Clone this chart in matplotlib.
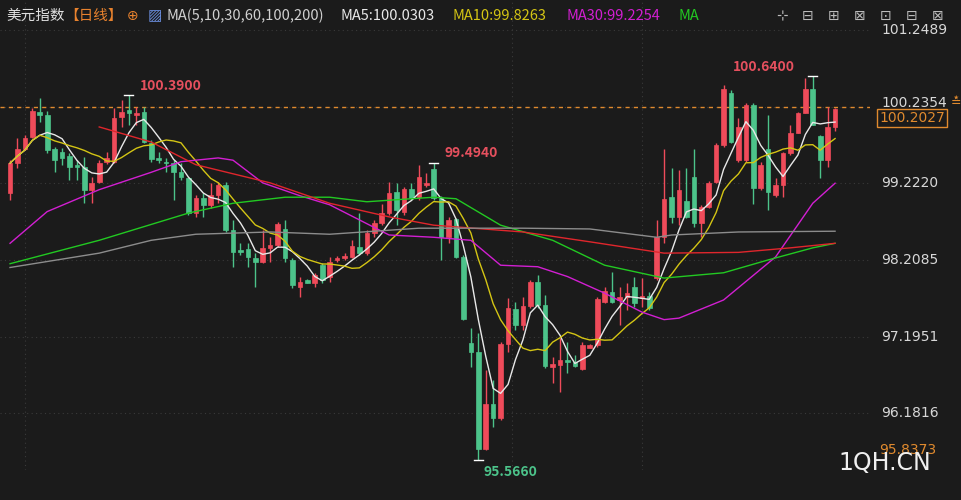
import matplotlib
matplotlib.use("Agg")
import matplotlib.pyplot as plt
from matplotlib.patches import Rectangle
import numpy as np
import pandas as pd

plt.rcParams['font.family'] = ['Noto Sans CJK SC', 'DejaVu Sans']

opens = [99.10,99.49,99.68,99.84,100.17,100.13,99.68,99.64,99.59,99.47,99.44,99.14,99.24,99.51,99.51,100.10,100.20,100.13,100.17,99.76,
 99.56,99.51,99.49,99.37,99.30,98.83,99.03,98.94,99.07,99.20,98.61,98.34,98.36,98.24,98.18,98.37,98.41,98.62,98.21,97.85,
 97.95,97.91,98.14,97.99,98.21,98.24,98.25,98.38,98.30,98.57,98.70,98.83,99.11,98.85,99.15,99.04,99.20,99.41,99.03,98.51,
 98.75,98.25,97.11,96.99,95.71,96.30,96.12,97.10,97.56,97.35,97.60,97.92,97.61,96.79,96.82,96.89,96.86,96.77,97.05,97.09,
 97.65,97.78,97.68,97.72,97.85,97.71,97.73,97.97,98.51,99.04,98.78,98.99,99.31,98.70,98.91,99.24,99.73,100.42,99.53,99.53,
 100.26,99.16,99.68,99.07,99.20,99.63,99.89,100.16,100.47,99.85,99.53,99.97]
highs = [99.53,99.82,99.86,100.22,100.35,100.18,99.70,99.69,99.63,99.53,99.57,99.31,99.53,99.64,100.22,100.33,100.39,100.23,100.23,99.80,
 99.64,99.56,99.53,99.49,99.31,99.07,99.10,99.23,99.24,99.24,98.74,98.43,98.43,98.30,98.61,98.51,98.71,98.74,98.24,97.99,
 97.96,98.04,98.17,98.25,98.26,98.30,98.47,98.83,98.61,98.74,98.95,99.24,99.23,99.17,99.23,99.47,99.36,99.494,99.05,98.78,
 98.77,98.28,97.31,97.24,96.75,96.62,97.12,97.71,97.65,97.72,97.95,98.01,97.74,96.93,97.18,97.13,96.95,97.12,97.10,97.72,
 97.85,98.05,97.85,97.91,97.99,97.97,97.78,98.74,99.68,99.43,99.40,99.43,99.68,98.94,99.25,99.76,100.53,100.46,100.09,100.29,
 100.29,99.51,100.13,99.30,99.64,100.00,100.17,100.62,100.64,99.86,100.23,100.22]
lows = [99.00,99.43,99.66,99.82,100.04,99.62,99.37,99.47,99.27,99.27,98.96,98.96,99.23,99.48,99.49,99.97,100.00,100.00,99.76,99.51,
 99.49,99.37,99.00,99.27,98.81,98.78,98.78,98.90,98.96,98.58,98.12,98.28,98.12,97.85,98.17,98.18,98.38,98.18,97.84,97.72,
 97.90,97.85,97.91,97.92,98.18,98.21,98.24,98.28,98.28,98.51,98.67,98.81,98.67,98.81,99.00,99.00,99.17,99.00,98.21,98.43,
 98.24,97.42,96.79,95.566,95.70,96.00,96.09,96.99,97.28,97.28,97.58,97.58,96.78,96.58,96.46,96.72,96.79,96.76,97.04,97.06,
 97.64,97.64,97.35,97.55,97.59,97.59,97.55,97.95,98.43,98.70,98.67,98.77,98.65,98.51,98.90,99.23,99.70,99.76,99.51,99.51,
 98.95,99.14,98.87,99.04,99.04,99.60,99.89,100.16,99.99,99.30,99.44,99.92]
closes = [99.49,99.68,99.82,100.18,100.13,99.67,99.53,99.56,99.44,99.44,99.14,99.23,99.49,99.56,100.09,100.17,100.16,100.16,99.77,99.55,
 99.53,99.49,99.37,99.31,98.83,99.03,98.94,99.07,99.20,98.61,98.31,98.31,98.25,98.18,98.37,98.41,98.69,98.24,97.88,97.92,
 97.91,98.01,97.95,98.18,98.24,98.26,98.40,98.30,98.57,98.70,98.83,99.10,98.87,99.15,99.03,99.31,99.23,99.03,98.51,98.74,
 98.25,97.43,96.99,95.71,96.30,96.12,97.10,97.58,97.35,97.60,97.92,97.61,96.81,96.83,96.89,96.86,96.81,97.09,97.09,97.69,
 97.80,97.65,97.72,97.77,97.64,97.73,97.58,98.51,99.02,98.78,99.14,98.78,98.70,98.91,99.23,99.73,100.47,99.77,99.97,100.26,
 99.16,99.47,99.11,99.20,99.63,99.89,100.16,100.47,100.00,99.53,99.97,100.2027]

ma30_idx = [0,5,12,19,23,28,30,34,39,43,51,57,62,66,71,75,80,85,88,90,96,103,108,111]
ma30_val = [98.43,98.85,99.14,99.37,99.51,99.56,99.53,99.23,99.06,98.94,98.54,98.51,98.47,98.14,98.12,97.99,97.77,97.52,97.42,97.44,97.68,98.25,98.96,99.2254]
ma60_idx = [0,12,24,30,37,43,48,57,60,66,73,80,88,96,102,108,111]
ma60_val = [98.16,98.47,98.83,98.96,99.04,99.04,98.98,99.04,99.02,98.67,98.47,98.14,97.97,98.04,98.21,98.37,98.43]
ma100_idx = [12,19,25,35,43,51,57,69,78,88,98,105,111]
ma100_val = [99.97,99.77,99.47,99.23,98.96,98.78,98.67,98.58,98.45,98.30,98.31,98.37,98.43]
ma200_idx = [0,12,19,25,35,43,55,69,78,87,89,98,111]
ma200_val = [98.11,98.30,98.47,98.55,98.58,98.55,98.63,98.63,98.62,98.51,98.54,98.58,98.59]

axis_ticks = [101.2489,100.2354,99.2220,98.2085,97.1951,96.1816]

BG = '#1b1b1b'
UP = '#ef4b5a'
DN = '#4cc38a'

fig = plt.figure(figsize=(9.61, 5.0), dpi=100, facecolor=BG)
ax = fig.add_axes([0, 0.06, 870/961, 0.94])
ax.set_facecolor(BG)
ax.set_xlim(-1.35, 115.7)
ax.set_ylim(95.43, 101.65)
for s in ax.spines.values():
    s.set_visible(False)
ax.set_xticks([]); ax.set_yticks([])

for t in axis_ticks:
    ax.axhline(t, color='#3a3a3a', lw=0.8, ls=(0, (1, 3)), zorder=0)
for xv in [2, 67.5, 85]:
    ax.axvline(xv, color='#3a3a3a', lw=0.8, ls=(0, (1, 3)), zorder=0)

w = 0.62
for i, (o, h, l, c) in enumerate(zip(opens, highs, lows, closes)):
    col = UP if c >= o else DN
    ax.vlines(i, l, h, color=col, lw=1, zorder=2)
    ax.add_patch(Rectangle((i - w/2, min(o, c)), w, max(abs(c - o), 0.012), facecolor=col, edgecolor=col, lw=0.5, zorder=3))

cs = pd.Series(closes)
x = np.arange(len(closes))
ax.plot(x, cs.rolling(5, min_periods=1).mean(), color='#e8e8e8', lw=1, zorder=4)
ax.plot(x, cs.rolling(10, min_periods=1).mean(), color='#d4c514', lw=1, zorder=4)
ax.plot(ma30_idx, ma30_val, color='#d21fd2', lw=1, zorder=4)
ax.plot(ma60_idx, ma60_val, color='#22c922', lw=1, zorder=4)
ax.plot(ma100_idx, ma100_val, color='#e0262c', lw=1, zorder=4)
ax.plot(ma200_idx, ma200_val, color='#8c8c8c', lw=1, zorder=4)

ax.axhline(100.2354, color='#e08a2e', lw=1, ls=(0, (3, 3)), zorder=1)

ax.annotate('100.3900', (16, 100.39), xytext=(8, 4), textcoords='offset points', color='#e5505e', fontsize=10, fontweight='bold')
ax.annotate('99.4940', (57, 99.494), xytext=(8, 4), textcoords='offset points', color='#e5505e', fontsize=10, fontweight='bold')
ax.annotate('100.6400', (108.5, 100.64), xytext=(-60, 4), textcoords='offset points', color='#e5505e', fontsize=10, fontweight='bold')
ax.annotate('95.5660', (63, 95.566), xytext=(4, -12), textcoords='offset points', color='#4cc38a', fontsize=10, fontweight='bold')
for (i, v) in [(16, 100.39), (57, 99.494), (108, 100.64), (63, 95.566)]:
    ax.plot([i - 0.6, i + 0.6], [v, v], color='white', lw=1, zorder=5)

def yfig(v):
    return 0.06 + 0.94 * (v - 95.43) / (101.65 - 95.43)
for t in axis_ticks:
    off = 0.008 if t == 100.2354 else 0.0
    fig.text(881/961, yfig(t) + off, f'{t:.4f}', color='#d8d8d8', fontsize=10, va='center', ha='left', family='DejaVu Sans')
fig.text(879/961, yfig(100.2027) - 0.018, '100.2027', color='#e08a2e', fontsize=10, va='center', ha='left',
         family='DejaVu Sans', bbox=dict(boxstyle='square,pad=0.15', fc=BG, ec='#e08a2e', lw=1))
fig.text(951/961, yfig(100.2354) + 0.008, '≛', color='#e08a2e', fontsize=9, va='center', ha='left')
fig.text(879/961, 1 - 450/500, '95.8373', color='#e08a2e', fontsize=10, va='center', ha='left', family='DejaVu Sans')
fig.text(838/961, 1 - 463/500, '1QH.CN', color='#f0f0f0', fontsize=17, va='center', ha='left', family='DejaVu Sans')

ty = 1 - 16/500
fig.text(6/961, ty, '美元指数', color='#e0e0e0', fontsize=10.5, va='center')
fig.text(64/961, ty, '【日线】', color='#e8822e', fontsize=10.5, va='center')
fig.text(127/961, ty, '⊕', color='#e8822e', fontsize=10, va='center', family='DejaVu Sans')
fig.text(148/961, ty, '▨', color='#6b8fe0', fontsize=11, va='center', family='DejaVu Sans')
fig.text(167/961, ty, 'MA(5,10,30,60,100,200)', color='#d0d0d0', fontsize=10.5, va='center')
fig.text(340/961, ty, 'MA5:100.0303', color='#e8e8e8', fontsize=10.5, va='center')
fig.text(453/961, ty, 'MA10:99.8263', color='#d4c514', fontsize=10.5, va='center')
fig.text(566/961, ty, 'MA30:99.2254', color='#d21fd2', fontsize=10.5, va='center')
fig.text(679/961, ty, 'MA', color='#22c922', fontsize=10.5, va='center')
for k, g in enumerate(['⊹', '⊟', '⊞', '⊠', '⊡', '⊟', '⊠']):
    fig.text((776 + k * 26) / 961, ty, g, color='#bbbbbb', fontsize=10, va='center', family='DejaVu Sans')

fig.savefig('out.png', dpi=100, facecolor=BG)
